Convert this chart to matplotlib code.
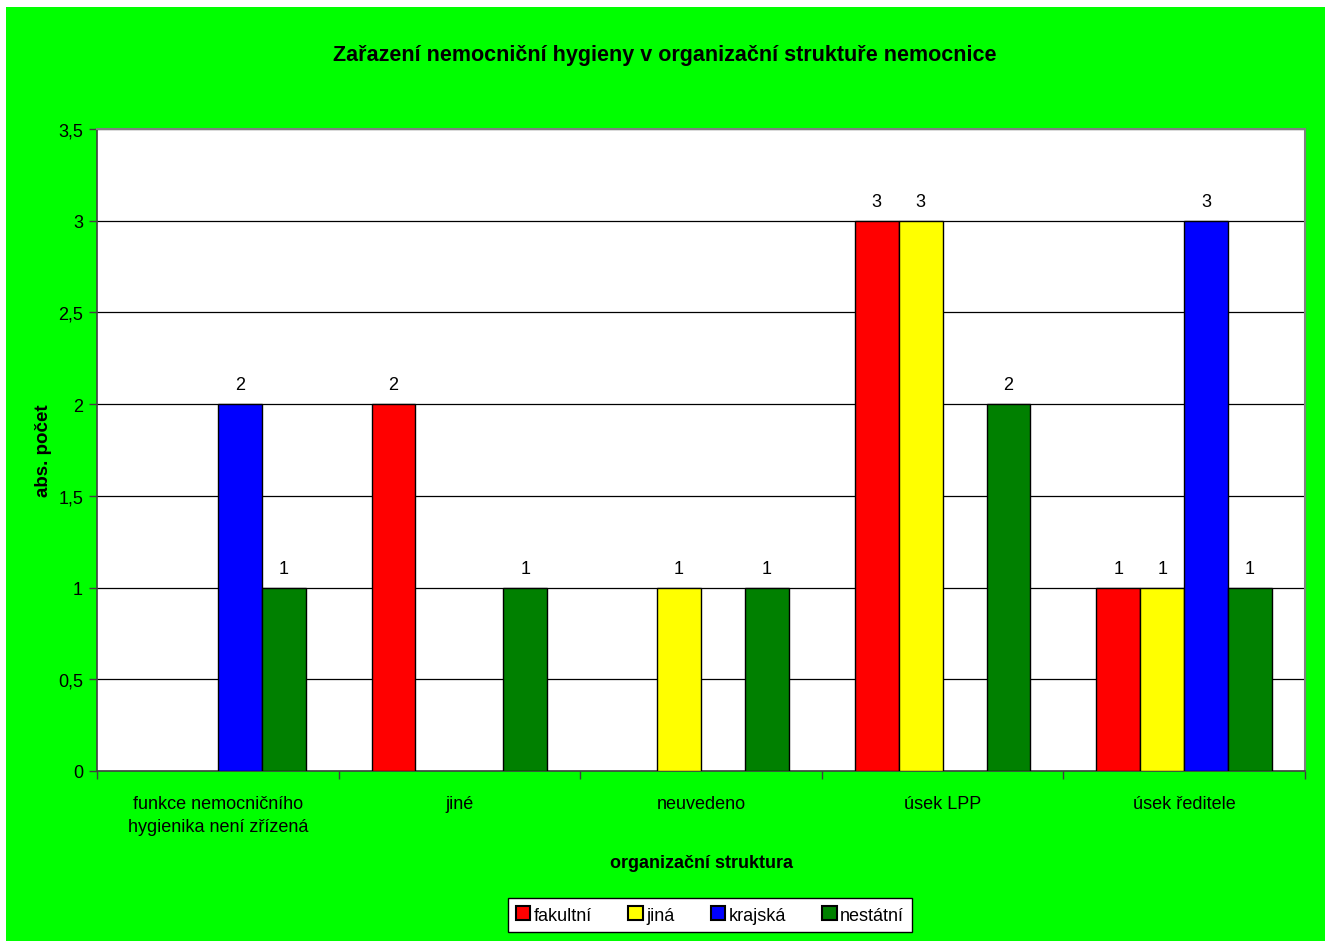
import numpy as np
import matplotlib.pyplot as plt
from matplotlib.ticker import MultipleLocator, FuncFormatter

plt.rcParams['font.family'] = ['Liberation Sans', 'DejaVu Sans']

# Categories on the x axis and counts per hospital type
categories = ['funkce nemocničního\nhygienika není zřízená', 'jiné', 'neuvedeno',
              'úsek LPP', 'úsek ředitele']
series_names = ['fakultní', 'jiná', 'krajská', 'nestátní']
fakultni = [0, 2, 0, 3, 1]
jina = [0, 0, 1, 3, 1]
krajska = [2, 0, 0, 0, 3]
nestatni = [1, 1, 1, 2, 1]
series_colors = ['#ff0000', '#ffff00', '#0000ff', '#008000']

values = [fakultni, jina, krajska, nestatni]

fig = plt.figure(figsize=(13.3, 9.45), dpi=100)
fig.patch.set_facecolor('white')
# green chart area with a thin white margin
fig.patches.append(plt.Rectangle((6 / 1330, 1 - 942 / 945), 1319 / 1330, 934 / 945,
                                 transform=fig.transFigure, facecolor='#00ff00',
                                 edgecolor='none', zorder=-1))

ax = fig.add_axes([97 / 1330, 1 - 772 / 945, 1208 / 1330, 642 / 945])
ax.set_zorder(1)
ax.set_facecolor('white')

n = len(series_names)
w = 1 / 5.5
x = np.arange(len(categories))
for i, (name, vals, col) in enumerate(zip(series_names, values, series_colors)):
    pos = x + (i - (n - 1) / 2) * w
    vals = np.array(vals, dtype=float)
    mask = vals > 0
    ax.bar(pos[mask], vals[mask], width=w, color=col, edgecolor='black',
           linewidth=1.0, label=name, zorder=3)
    for p, v in zip(pos[mask], vals[mask]):
        ax.text(p, v + 0.06, f'{int(v)}', ha='center', va='bottom', fontsize=13, zorder=4)

ax.set_xlim(-0.5, len(categories) - 0.5)
ax.set_ylim(0, 3.5)
ax.yaxis.set_major_locator(MultipleLocator(0.5))
ax.yaxis.set_major_formatter(FuncFormatter(lambda v, _: f'{v:g}'.replace('.', ',')))
ax.yaxis.grid(True, color='black', linewidth=0.9, zorder=1)
ax.set_axisbelow(True)

# category ticks sit on the group boundaries
ax.set_xticks(np.arange(len(categories) + 1) - 0.5)
ax.set_xticklabels([])
ax.set_xticks(x, minor=True)
ax.set_xticklabels(categories, minor=True, fontsize=13, linespacing=1.5)
ax.tick_params(axis='x', which='minor', length=0, pad=17)
ax.tick_params(axis='x', which='major', length=6, width=1, color='#404040', direction='out')
ax.tick_params(axis='y', length=6, width=1, color='#404040', direction='out', labelsize=13, pad=4)

for side in ['top', 'right']:
    ax.spines[side].set_color('#808080')
    ax.spines[side].set_linewidth(1.5)
for side in ['left', 'bottom']:
    ax.spines[side].set_color('#404040')
    ax.spines[side].set_linewidth(1.2)

fig.text(665 / 1330, 1 - 56 / 945, 'Zařazení nemocniční hygieny v organizační struktuře nemocnice',
         ha='center', va='center', fontsize=15.5, fontweight='bold')
fig.text(43 / 1330, 1 - 451 / 945, 'abs. počet', ha='center', va='center',
         rotation=90, fontsize=13.5, fontweight='bold')
fig.text(702 / 1330, 1 - 864 / 945, 'organizační struktura', ha='center', va='center',
         fontsize=13, fontweight='bold')

leg = fig.legend(loc='center', bbox_to_anchor=(710 / 1330, 1 - 916 / 945), ncol=4,
                 fontsize=13, frameon=True, fancybox=False, shadow=False,
                 handlelength=0.8, handleheight=0.8, handletextpad=0.2,
                 columnspacing=2.0, borderpad=0.45)
leg.get_frame().set_edgecolor('black')
leg.get_frame().set_linewidth(1.0)
leg.get_frame().set_facecolor('white')
leg.get_frame().set_alpha(1)
for patch in leg.get_patches():
    patch.set_linewidth(1.5)

fig.savefig('out.png', dpi=100, facecolor=fig.get_facecolor())
